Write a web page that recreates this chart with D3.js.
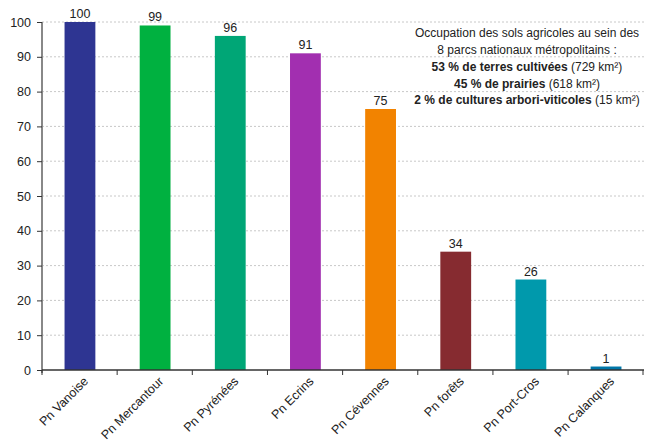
<!DOCTYPE html>
<html>
<head>
<meta charset="utf-8">
<script src="https://cdn.jsdelivr.net/npm/d3@7"></script>
<style>
  body { margin: 0; background: #fff; }
  svg text { font-family: "Liberation Sans", Arial, sans-serif; fill: #222; }
</style>
</head>
<body>
<svg id="bar"></svg>
<script>
let parks = ["Pn Vanoise", "Pn Mercantour", "Pn Pyrénées", "Pn Ecrins", "Pn Cévennes", "Pn forêts", "Pn Port-Cros", "Pn Calanques"];
let values = [100, 99, 96, 91, 75, 34, 26, 1];
let colors = ["#2e3592", "#00b140", "#00a676", "#a22fb0", "#f28300", "#862b30", "#0099ac", "#0076a8"];
let yTicks = [0, 10, 20, 30, 40, 50, 60, 70, 80, 90, 100];

let note = [
  [["Occupation des sols agricoles au sein des", false]],
  [["8 parcs nationaux métropolitains :", false]],
  [["53 % de terres cultivées", true], [" (729 km²)", false]],
  [["45 % de prairies", true], [" (618 km²)", false]],
  [["2 % de cultures arbori-viticoles", true], [" (15 km²)", false]]
];

const width = 646;
const height = 443;

let svg = d3.select("svg#bar").attr("width", width).attr("height", height);

let margin = { top: 22, right: 2, bottom: 73, left: 42 };
let plotWidth = width - margin.left - margin.right;
let plotHeight = height - margin.top - margin.bottom;

let yScale = d3.scaleLinear().domain([0, 100]).range([plotHeight, 0]);
let xScale = d3.scaleBand().domain(parks).range([0, plotWidth]).paddingInner(0.59).paddingOuter(0.3);

let plot = svg.append("g").attr("transform", "translate(" + margin.left + "," + margin.top + ")");

// dashed grid lines
plot.append("g").selectAll("line")
  .data(yTicks.filter(d => d > 0))
  .enter().append("line")
  .attr("x1", 0).attr("x2", plotWidth)
  .attr("y1", d => yScale(d)).attr("y2", d => yScale(d))
  .attr("stroke", "#c8c8c8").attr("stroke-dasharray", "2,2");

let yGroup = plot.append("g").call(d3.axisLeft(yScale).tickValues(yTicks).tickSize(5).tickPadding(6));
yGroup.select(".domain").attr("stroke", "#888").attr("stroke-width", 2).attr("d", "M0," + (plotHeight + 3) + "V0");
yGroup.selectAll(".tick line").attr("stroke", "#333");
yGroup.selectAll("text").style("font-size", "12.5px").attr("fill", "#222");

// bars
plot.selectAll("rect.bar")
  .data(parks)
  .enter().append("rect")
  .attr("class", "bar")
  .attr("x", d => xScale(d))
  .attr("width", xScale.bandwidth())
  .attr("y", (d, i) => yScale(values[i]))
  .attr("height", (d, i) => plotHeight - yScale(values[i]))
  .attr("fill", (d, i) => colors[i]);

plot.selectAll("text.val")
  .data(parks)
  .enter().append("text")
  .attr("class", "val")
  .attr("x", d => xScale(d) + xScale.bandwidth() / 2)
  .attr("y", (d, i) => yScale(values[i]) - 4)
  .attr("text-anchor", "middle")
  .style("font-size", "12.5px")
  .text((d, i) => values[i]);

// x axis
let step = xScale.step();
let xAxisG = plot.append("g").attr("transform", "translate(0," + plotHeight + ")");
xAxisG.append("line").attr("x1", 0).attr("x2", plotWidth).attr("stroke", "#333").attr("stroke-width", 1.5);
xAxisG.selectAll("line.tk")
  .data(d3.range(parks.length + 1))
  .enter().append("line")
  .attr("class", "tk")
  .attr("x1", i => Math.min(i * step, plotWidth - 1)).attr("x2", i => Math.min(i * step, plotWidth - 1))
  .attr("y1", 0).attr("y2", 5)
  .attr("stroke", "#333");
xAxisG.selectAll("text")
  .data(parks)
  .enter().append("text")
  .attr("text-anchor", "end")
  .attr("transform", d => "translate(" + (xScale(d) + xScale.bandwidth() / 2 + 9) + ",12) rotate(-45)")
  .style("font-size", "12.5px")
  .text(d => d);

// note
let noteText = svg.append("text").attr("text-anchor", "middle").style("font-size", "12px");
note.forEach((line, i) => {
  let t = noteText.append("tspan").attr("x", 527).attr("y", 37 + i * 16.5 + (i >= 2 ? 1 : 0));
  line.forEach(part => {
    t.append("tspan").style("font-weight", part[1] ? "bold" : "normal").text(part[0]);
  });
});
</script>
</body>
</html>
